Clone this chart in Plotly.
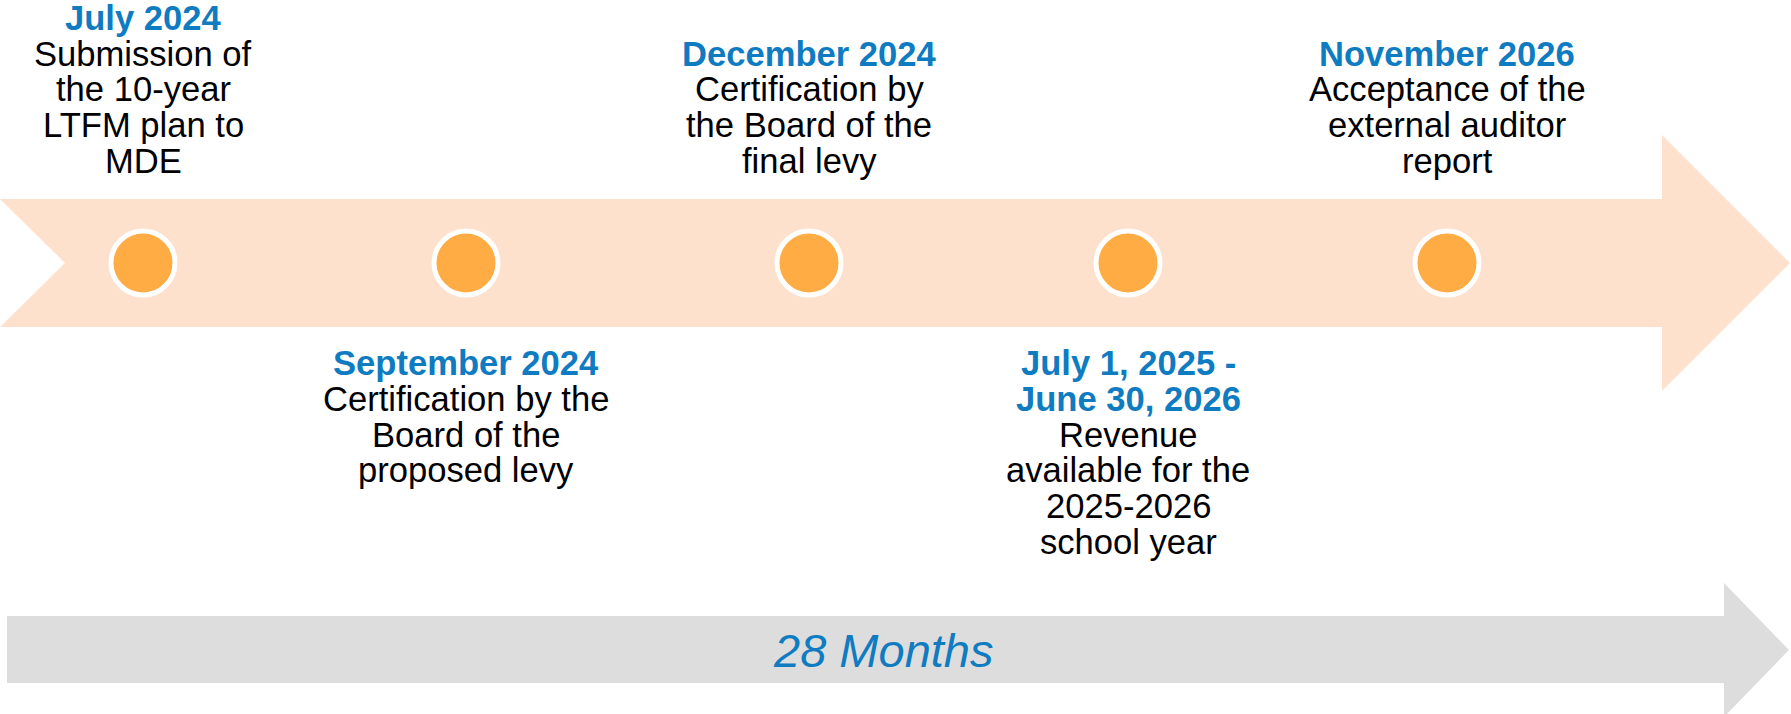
import plotly.graph_objects as go

# ---------------- data ----------------
date_lines = [
    ["July 2024"],
    ["September 2024"],
    ["December 2024"],
    ["July 1, 2025 -", "June 30, 2026"],
    ["November 2026"],
]
desc_lines = [
    ["Submission of", "the 10-year", "LTFM plan to", "MDE"],
    ["Certification by the", "Board of the", "proposed levy"],
    ["Certification by", "the Board of the", "final levy"],
    ["Revenue", "available for the", "2025-2026", "school year"],
    ["Acceptance of the", "external auditor", "report"],
]
sides = ["above", "below", "above", "below", "above"]
duration_label = "28 Months"

# ---------------- layout (pixel canvas) ----------------
W, H = 1791, 714
slot_x = [143, 466, 809, 1128, 1447]
axis_y = 263
line_step = 35.8
above_last_baseline = 173
below_first_baseline = 375
FS = 34.6
BLUE = "#0F7BC1"
ORANGE = "#FFAC45"
BAND = "#FDE1CD"
GREY = "#DDDDDD"
FONT = "Arial, Liberation Sans, sans-serif"


def center_from_baseline(b, fs):
    return b - 0.3465 * fs


fig = go.Figure()

# timeline arrow (orange band) and duration arrow (grey)
fig.add_shape(type="path", xref="x", yref="y", layer="below", line_width=0,
              fillcolor=BAND,
              path="M 0 199 L 1662 199 L 1662 135 L 1790 263 L 1662 391 L 1662 327 L 0 327 L 65 263 Z")
fig.add_shape(type="path", xref="x", yref="y", layer="below", line_width=0,
              fillcolor=GREY,
              path="M 7 616 L 1724 616 L 1724 583 L 1789 650 L 1724 717 L 1724 683 L 7 683 Z")

# milestone markers
fig.add_trace(go.Scatter(
    x=slot_x, y=[axis_y] * len(slot_x), mode="markers",
    marker=dict(size=64, color=ORANGE, line=dict(color="white", width=5)),
    hoverinfo="skip", showlegend=False,
))

# milestone texts
for i, x in enumerate(slot_x):
    lines = [(t, True) for t in date_lines[i]] + [(t, False) for t in desc_lines[i]]
    n = len(lines)
    if sides[i] == "above":
        baselines = [above_last_baseline - (n - 1 - k) * line_step for k in range(n)]
    else:
        baselines = [below_first_baseline + k * line_step for k in range(n)]
    for (txt, is_date), b in zip(lines, baselines):
        fig.add_annotation(
            x=x, y=center_from_baseline(b, FS), xref="x", yref="y",
            text=f"<b>{txt}</b>" if is_date else txt,
            showarrow=False, xanchor="center", yanchor="middle",
            font=dict(family=FONT, size=FS, color=BLUE if is_date else "black"),
        )

fig.add_annotation(
    x=883, y=center_from_baseline(667, 47), xref="x", yref="y",
    text=f"<i>{duration_label}</i>", showarrow=False,
    xanchor="center", yanchor="middle",
    font=dict(family=FONT, size=47, color=BLUE),
)

fig.update_layout(
    width=W, height=H, margin=dict(l=0, r=0, t=0, b=0),
    paper_bgcolor="white", plot_bgcolor="white",
    xaxis=dict(range=[0, W], visible=False, fixedrange=True),
    yaxis=dict(range=[H, 0], visible=False, fixedrange=True),
    showlegend=False,
)

fig.write_html(
    "out.html",
    config={"displayModeBar": False},
    post_script="document.body.style.margin='0';document.body.style.overflow='hidden';",
)
